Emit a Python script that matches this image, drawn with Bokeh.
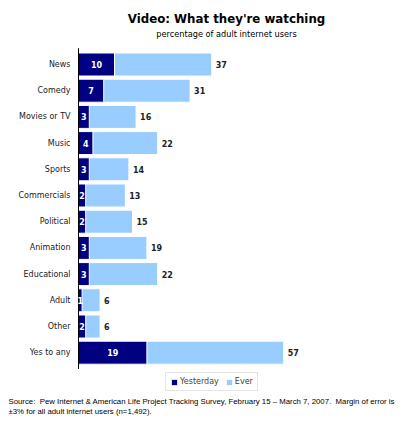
from bokeh.plotting import figure
from bokeh.models import Range1d, Label, Legend, LegendItem, ColumnDataSource
from bokeh.core.properties import value
from bokeh.embed import file_html
from bokeh.resources import INLINE

categories = ["News", "Comedy", "Movies or TV", "Music", "Sports", "Commercials",
              "Political", "Animation", "Educational", "Adult", "Other", "Yes to any"]
yesterday = [10, 7, 3, 4, 3, 2, 2, 3, 3, 1, 2, 19]
ever = [37, 31, 16, 22, 14, 13, 15, 19, 22, 6, 6, 57]

DARK = "#000080"
LIGHT = "#99CCFF"

W, H = 400, 427
AX = 78.0      # pixel x of zero line
PXU = 3.6      # px per percent
Y0 = 64.0      # pixel y of first row centre
ROW = 26.2     # px per row

idx = list(range(len(categories)))
src = ColumnDataSource(dict(
    y=idx, cat=categories, yes=yesterday, ever=ever,
    yes_mid=[v / 2 for v in yesterday],
    ylab=[str(v) for v in yesterday], elab=[str(v) for v in ever],
))

p = figure(width=W, height=H, output_backend="svg", toolbar_location=None,
           x_range=Range1d(-AX / PXU, (W - AX) / PXU),
           y_range=Range1d((H - Y0) / ROW, -Y0 / ROW),
           min_border=0, outline_line_color=None)
p.axis.visible = False
p.grid.visible = False
p.background_fill_color = "white"
p.border_fill_color = "white"

bh = 23.0 / ROW
r_ever = p.hbar(y="y", left=0, right="ever", height=bh, source=src,
                fill_color=LIGHT, line_color="white", line_width=1)
r_yes = p.hbar(y="y", left=0, right="yes", height=bh, source=src,
               fill_color=DARK, line_color="white", line_width=1)

# zero line
p.segment(x0=0, x1=0, y0=-0.62, y1=len(categories) - 0.38, line_color="black", line_width=1)

# category labels
p.text(x=-8 / PXU, y="y", text="cat", source=src, text_align="right", text_baseline="middle",
       text_font=value("DejaVu Sans"), text_font_size="8px", text_color="#222222")
# yesterday labels
p.text(x="yes_mid", y="y", text="ylab", source=src, text_align="center", text_baseline="middle",
       text_font=value("DejaVu Sans"), text_font_size="8px", text_font_style="bold",
       text_color="white")
# ever labels
p.text(x="ever", y="y", text="elab", source=src, x_offset=4, text_align="left",
       text_baseline="middle", text_font=value("DejaVu Sans"), text_font_size="8px",
       text_font_style="bold", text_color="#222222")

p.add_layout(Label(x=226, y=H - 18, x_units="screen", y_units="screen",
                   text="Video: What they're watching", text_align="center",
                   text_baseline="middle", text_font="DejaVu Sans", text_font_size="11.8px",
                   text_font_style="bold", text_color="black"))
p.add_layout(Label(x=226, y=H - 33, x_units="screen", y_units="screen",
                   text="percentage of adult internet users", text_align="center",
                   text_baseline="middle", text_font="DejaVu Sans", text_font_size="8.2px",
                   text_color="black"))
p.add_layout(Label(x=8, y=H - 401, x_units="screen", y_units="screen",
                   text="Source:\u00a0\u00a0Pew Internet & American Life Project Tracking Survey, February 15 \u2013 March 7, 2007.\u00a0\u00a0Margin of error is",
                   text_align="left", text_baseline="middle", text_font="Liberation Sans",
                   text_font_size="7.8px", text_color="black"))
p.add_layout(Label(x=8, y=H - 411, x_units="screen", y_units="screen",
                   text="\u00b13% for all adult internet users (n=1,492).",
                   text_align="left", text_baseline="middle", text_font="Liberation Sans",
                   text_font_size="7.8px", text_color="black"))

legend = Legend(items=[LegendItem(label="Yesterday", renderers=[r_yes]),
                       LegendItem(label="Ever", renderers=[r_ever])],
                orientation="horizontal", location=(165, H - 391),
                label_text_font="DejaVu Sans", label_text_font_size="8px",
                glyph_width=8, glyph_height=8, label_standoff=2, spacing=6,
                padding=4, margin=0, border_line_color="#cccccc",
                label_height=8, label_width=10)
p.add_layout(legend)

open("out.html", "w").write(file_html(p, INLINE))
